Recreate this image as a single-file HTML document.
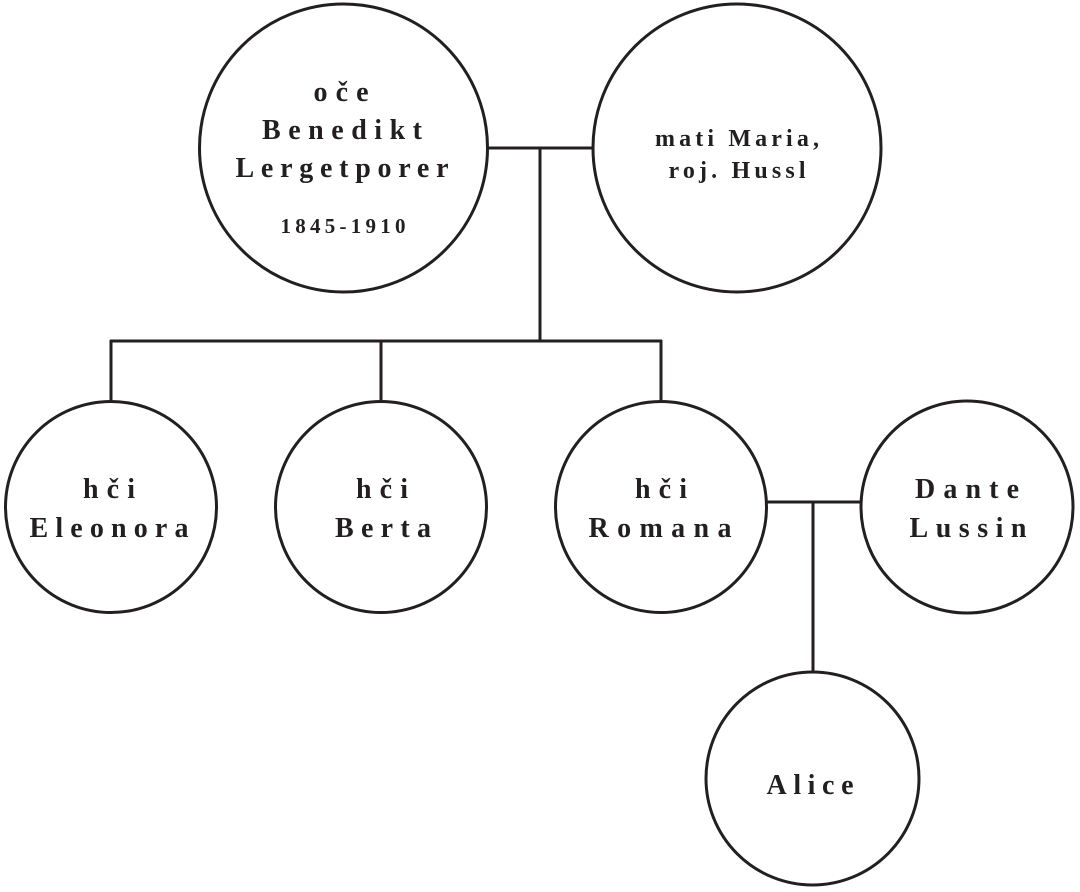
<!DOCTYPE html>
<html><head><meta charset="utf-8"><style>
html,body{margin:0;padding:0;background:#fff;}
svg{display:block;}
text{font-family:"Liberation Serif",serif;font-weight:bold;fill:#231f20;text-anchor:middle;}
</style></head><body>
<svg width="1080" height="892" viewBox="0 0 1080 892" xmlns="http://www.w3.org/2000/svg">
<g fill="none" stroke="#231f20" stroke-width="3">
<circle cx="343.5" cy="148" r="144"/>
<circle cx="737" cy="148" r="144"/>
<line x1="487" y1="148" x2="593" y2="148"/>
<line x1="540" y1="148" x2="540" y2="341"/>
<line x1="110" y1="341" x2="662" y2="341"/>
<line x1="111" y1="340" x2="111" y2="401"/>
<line x1="381" y1="341" x2="381" y2="401"/>
<line x1="661" y1="340" x2="661" y2="401"/>
<circle cx="111" cy="507" r="105.5"/>
<circle cx="381" cy="507" r="105.5"/>
<circle cx="661" cy="507" r="105.5"/>
<circle cx="967" cy="507" r="106"/>
<line x1="766" y1="502" x2="861" y2="502"/>
<line x1="813" y1="502" x2="813" y2="672"/>
<circle cx="812.5" cy="778.5" r="106.5"/>
</g>
<text x="341" y="101" font-size="28" textLength="55" lengthAdjust="spacing">oče</text>
<text x="342" y="139" font-size="28" textLength="160" lengthAdjust="spacing">Benedikt</text>
<text x="342" y="177" font-size="28" textLength="213" lengthAdjust="spacing">Lergetporer</text>
<text x="343" y="233" font-size="21" textLength="125" lengthAdjust="spacing">1845-1910</text>
<text x="737" y="146" font-size="24" textLength="164" lengthAdjust="spacing">mati Maria,</text>
<text x="737" y="178" font-size="24" textLength="137" lengthAdjust="spacing">roj. Hussl</text>
<text x="109" y="498" font-size="28" textLength="52" lengthAdjust="spacing">hči</text>
<text x="109" y="537" font-size="28" textLength="159" lengthAdjust="spacing">Eleonora</text>
<text x="382" y="498" font-size="28" textLength="52" lengthAdjust="spacing">hči</text>
<text x="383" y="537" font-size="28" textLength="96" lengthAdjust="spacing">Berta</text>
<text x="661" y="498" font-size="28" textLength="52" lengthAdjust="spacing">hči</text>
<text x="660" y="537" font-size="28" textLength="143" lengthAdjust="spacing">Romana</text>
<text x="967" y="498" font-size="28" textLength="104" lengthAdjust="spacing">Dante</text>
<text x="968" y="537" font-size="28" textLength="117" lengthAdjust="spacing">Lussin</text>
<text x="810" y="794" font-size="28" textLength="87" lengthAdjust="spacing">Alice</text>
</svg>
</body></html>
